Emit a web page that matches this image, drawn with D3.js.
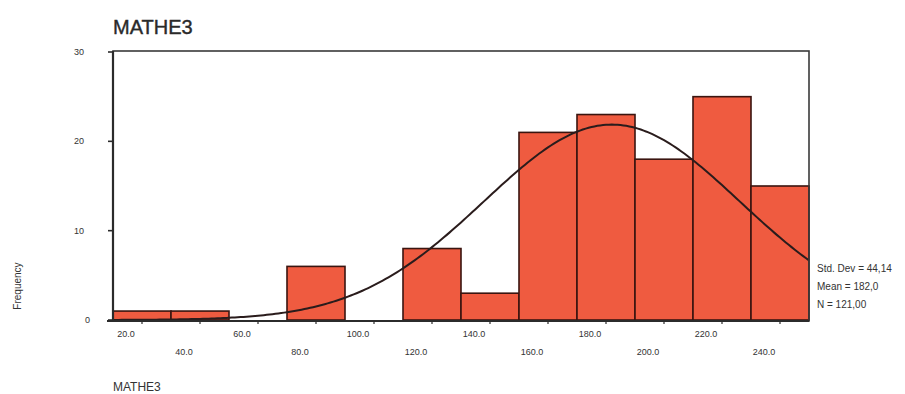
<!DOCTYPE html>
<html>
<head>
<meta charset="utf-8">
<script src="https://cdn.jsdelivr.net/npm/d3@7"></script>
<style>
  html, body { margin: 0; padding: 0; background: #ffffff; }
  svg { display: block; font-family: "Liberation Sans", Arial, sans-serif; }
</style>
</head>
<body>
<svg id="chart" width="905" height="394"></svg>
<script>
// Histogram of MATHE3 scores (bin width 20) with a fitted normal curve
const binCenters = [20, 40, 60, 80, 100, 120, 140, 160, 180, 200, 220, 240];
const frequencies = [1, 1, 0, 6, 0, 8, 3, 21, 23, 18, 25, 15];
const binWidth = 20;
const yTickValues = [0, 10, 20, 30];
const xTickLabels = ["20.0", "40.0", "60.0", "80.0", "100.0", "120.0", "140.0", "160.0", "180.0", "200.0", "220.0", "240.0"];
const meanValue = 182.0;
const stdDev = 44.14;
const nCount = 121;
const statLines = ["Std. Dev = 44,14", "Mean = 182,0", "N = 121,00"];
const titleText = "MATHE3";
const yAxisTitle = "Frequency";
const xAxisTitle = "MATHE3";

const svg = d3.select("#chart");

const plotLeft = 113, plotRight = 809, plotTop = 52, plotBottom = 320;
const x = d3.scaleLinear().domain([10, 250]).range([plotLeft, plotRight]);
const y = d3.scaleLinear().domain([0, 30]).range([plotBottom, plotTop]);

const barFill = "#ef5b40";
const barStroke = "#3a1510";
const ink = "#2b2b2b";
const labelInk = "#333";

// Title
svg.append("text")
  .attr("x", 113).attr("y", 34)
  .attr("font-size", 20)
  .attr("fill", "#2a2a2a")
  .attr("stroke", "#2a2a2a")
  .attr("stroke-width", 0.4)
  .text(titleText);

// Bars
svg.append("g").selectAll("rect")
  .data(binCenters.map((c, i) => ({ c, f: frequencies[i] })).filter(d => d.f > 0))
  .join("rect")
  .attr("x", d => x(d.c - binWidth / 2))
  .attr("y", d => y(d.f))
  .attr("width", d => x(d.c + binWidth / 2) - x(d.c - binWidth / 2))
  .attr("height", d => y(0) - y(d.f))
  .attr("fill", barFill)
  .attr("stroke", barStroke)
  .attr("stroke-width", 1.6);

// Fitted normal curve scaled to counts per bin
const pdf = v => Math.exp(-0.5 * Math.pow((v - meanValue) / stdDev, 2)) / (stdDev * Math.sqrt(2 * Math.PI));
const curvePts = d3.range(10, 250.01, 1).map(v => [v, nCount * binWidth * pdf(v)]);
svg.append("path")
  .datum(curvePts)
  .attr("fill", "none")
  .attr("stroke", "#2a1c1c")
  .attr("stroke-width", 2)
  .attr("d", d3.line().x(d => x(d[0])).y(d => y(d[1])));

// Frame
svg.append("rect")
  .attr("x", plotLeft).attr("y", 51)
  .attr("width", plotRight - plotLeft).attr("height", plotBottom + 1 - 51)
  .attr("fill", "none")
  .attr("stroke", "#3a3a3a")
  .attr("stroke-width", 1.6);
svg.append("line")
  .attr("x1", plotLeft).attr("x2", plotLeft)
  .attr("y1", 51).attr("y2", plotBottom + 1)
  .attr("stroke", ink).attr("stroke-width", 2.2);
svg.append("line")
  .attr("x1", plotLeft - 6).attr("x2", plotRight)
  .attr("y1", plotBottom + 1).attr("y2", plotBottom + 1)
  .attr("stroke", ink).attr("stroke-width", 2);

// Y axis ticks and labels
const yAxis = svg.append("g");
yAxis.selectAll("line")
  .data(yTickValues)
  .join("line")
  .attr("x1", plotLeft - 5).attr("x2", plotLeft)
  .attr("y1", d => y(d)).attr("y2", d => y(d))
  .attr("stroke", ink).attr("stroke-width", 1.6);
yAxis.selectAll("text")
  .data(yTickValues)
  .join("text")
  .attr("x", d => d === 0 ? 90 : 84)
  .attr("y", d => y(d) + 3)
  .attr("text-anchor", "end")
  .attr("font-size", 9)
  .attr("fill", labelInk)
  .text(d => d);

// X axis ticks at bin centres, staggered labels
const xAxis = svg.append("g");
xAxis.selectAll("line")
  .data(binCenters)
  .join("line")
  .attr("x1", d => x(d)).attr("x2", d => x(d))
  .attr("y1", plotBottom + 1).attr("y2", plotBottom + 4)
  .attr("stroke", ink).attr("stroke-width", 1.2);
xAxis.selectAll("text")
  .data(binCenters)
  .join("text")
  .attr("x", d => x(d) - 16)
  .attr("y", (d, i) => i % 2 === 0 ? 337 : 355)
  .attr("text-anchor", "middle")
  .attr("font-size", 9)
  .attr("fill", labelInk)
  .text((d, i) => xTickLabels[i]);

// Axis titles
svg.append("text")
  .attr("transform", "translate(21,286) rotate(-90)")
  .attr("text-anchor", "middle")
  .attr("font-size", 10)
  .attr("fill", labelInk)
  .text(yAxisTitle);
svg.append("text")
  .attr("x", 113).attr("y", 391)
  .attr("font-size", 12)
  .attr("fill", labelInk)
  .text(xAxisTitle);

// Summary statistics
svg.append("g").selectAll("text")
  .data(statLines)
  .join("text")
  .attr("x", 817)
  .attr("y", (d, i) => 272 + i * 18)
  .attr("font-size", 10)
  .attr("fill", labelInk)
  .text(d => d);
</script>
</body>
</html>
